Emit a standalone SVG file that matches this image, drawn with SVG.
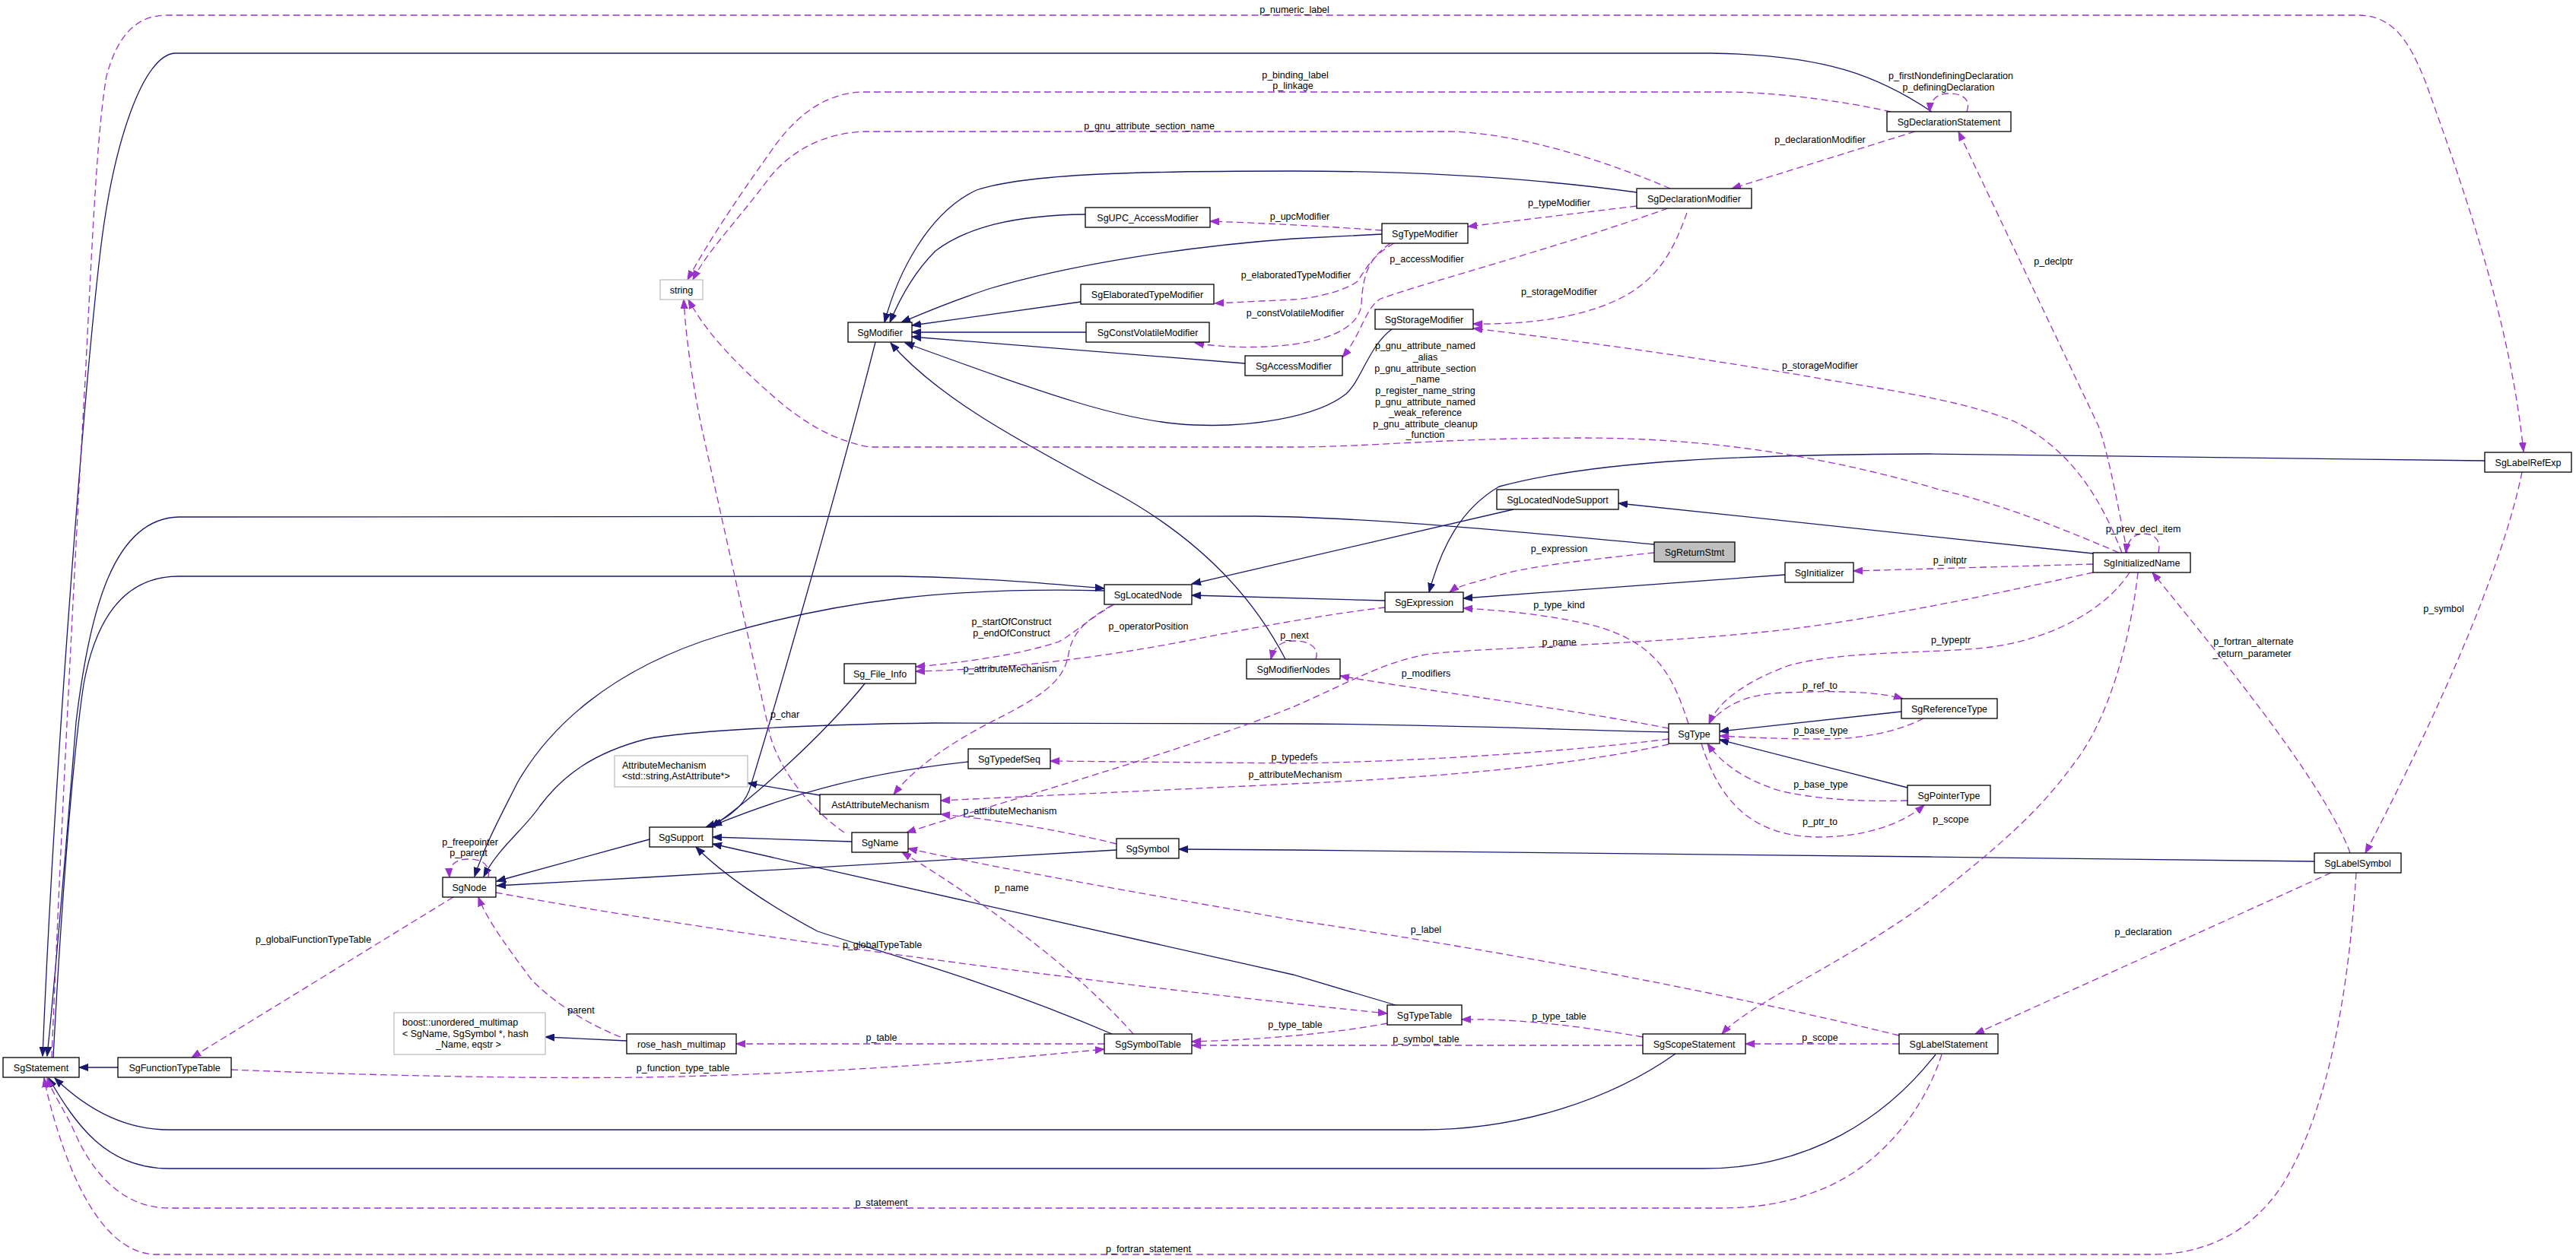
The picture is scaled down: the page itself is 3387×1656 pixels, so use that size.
<svg xmlns="http://www.w3.org/2000/svg" width="3387" height="1656" viewBox="0 0 3387 1656">
<style>
.n rect{fill:#fff;stroke:#000;stroke-width:1.3}
.g rect{stroke:#bfbfbf}
.r rect{fill:#bfbfbf}
text{font-family:"Liberation Sans",Arial,Helvetica,sans-serif;font-size:12.5px;fill:#000;text-anchor:middle}
text.l{text-anchor:start}
.inh{fill:none;stroke:#191970;stroke-width:1.3;marker-end:url(#ab)}
.use{fill:none;stroke:#9a32cd;stroke-width:1.3;stroke-dasharray:9,5;marker-end:url(#ap)}
</style>
<defs>
<marker id="ab" markerUnits="userSpaceOnUse" markerWidth="13" markerHeight="10" viewBox="0 0 13 10" refX="12" refY="5" orient="auto"><path d="M0,0.5 L12,5 L0,9.5 z" fill="#191970" stroke="#191970" stroke-width="1"/></marker>
<marker id="ap" markerUnits="userSpaceOnUse" markerWidth="13" markerHeight="10" viewBox="0 0 13 10" refX="12" refY="5" orient="auto"><path d="M0,0.5 L12,5 L0,9.5 z" fill="#9a32cd" stroke="#9a32cd" stroke-width="1"/></marker>
</defs>
<rect width="3387" height="1656" fill="#fff"/>
<g id="edges">
<path class="inh" d="M2540,147 C2470,100 2400,72 2250,70 L230,70 C190,72 150,180 132,330 C112,500 72,1000 56,1389"/>
<path class="inh" d="M2175,716 C2000,700 1800,680 1650,679 L235,680 C150,682 118,800 100,950 C88,1100 76,1250 62,1389"/>
<path class="inh" d="M70,1391 C80,1200 95,1000 110,900 C130,790 180,758 235,758 L1180,758 C1300,760 1380,768 1452,774"/>
<path class="inh" d="M1452,777 C1250,772 1100,790 950,835 C800,880 720,960 680,1030 C660,1070 638,1110 624,1153"/>
<path class="inh" d="M2194,963 C2000,958 1850,952 1700,952 L1229,951 C1050,953 900,962 850,972 C780,990 740,1020 710,1060 C690,1090 655,1115 636,1153"/>
<path class="inh" d="M854,1104 L653,1159"/>
<path class="inh" d="M1468,1118 L850,1154 L653,1165"/>
<path class="inh" d="M1990,670 L1567,768"/>
<path class="inh" d="M1821,790 L1567,783"/>
<path class="inh" d="M2752,728 L2128,662"/>
<path class="inh" d="M2347,756 L1924,787"/>
<path class="inh" d="M3267,606 C3000,603 2700,598 2537,597 C2300,598 2100,605 1971,640 C1920,670 1895,720 1879,779"/>
<path class="inh" d="M2500,936 L2261,962"/>
<path class="inh" d="M2508,1036 L2261,973"/>
<path class="inh" d="M3043,1133 L2537,1127 L1700,1118 L1550,1117"/>
<path class="inh" d="M2203,1386 C2120,1445 2000,1486 1870,1486 L222,1486 C160,1486 110,1455 72,1418"/>
<path class="inh" d="M2545,1387 C2480,1470 2380,1537 2240,1537 L222,1537 C140,1537 100,1480 64,1418"/>
<path class="inh" d="M155,1404 L104,1404"/>
<path class="inh" d="M1690,867 C1640,770 1560,700 1470,650 C1330,575 1230,520 1171,451"/>
<path class="inh" d="M1151,450 C1100,650 1010,960 985,1040 C975,1065 950,1080 928,1088"/>
<path class="inh" d="M1138,898 C1080,970 990,1050 935,1088"/>
<path class="inh" d="M1273,1002 C1150,1015 1050,1040 937,1086"/>
<path class="inh" d="M1120,1107 L937,1101"/>
<path class="inh" d="M1835,1322 L1700,1282 L937,1110"/>
<path class="inh" d="M1462,1360 C1300,1290 1150,1250 1075,1225 C1010,1190 950,1150 915,1114"/>
<path class="inh" d="M1078,1046 L983,1030"/>
<path class="inh" d="M824,1369 L717,1364"/>
<path class="inh" d="M2152,253 C2000,232 1850,225 1700,225 C1500,225 1350,228 1284,250 C1220,280 1180,360 1163,424"/>
<path class="inh" d="M1427,282 C1330,283 1270,300 1230,330 C1200,360 1180,400 1170,424"/>
<path class="inh" d="M1817,308 L1700,314 C1550,325 1400,350 1300,380 C1240,400 1200,418 1185,424"/>
<path class="inh" d="M1421,397 L1199,428"/>
<path class="inh" d="M1428,437 L1199,437"/>
<path class="inh" d="M1637,478 L1199,443"/>
<path class="inh" d="M1830,433 C1800,455 1790,500 1770,518 C1730,550 1640,562 1571,559 C1480,556 1380,520 1190,451"/>

<path class="use" d="M68,1391 C80,1100 100,700 112,500 C122,300 128,170 140,100 C155,45 180,20 220,20 L3100,20 C3150,20 3170,60 3190,110 C3240,250 3300,420 3318,594"/>
<path class="use" d="M2486,147 C2420,132 2330,121 2269,121 L1137,121 C1080,121 1040,160 1013,200 C970,260 930,320 904,368"/>
<path class="use" d="M2196,248 C2120,215 2000,175 1906,173 L1137,173 C1080,175 1040,200 1013,232 C970,290 930,330 911,368"/>
<path class="use" d="M1817,303 C1750,298 1650,293 1591,291"/>
<path class="use" d="M2152,271 L1930,298"/>
<path class="use" d="M2518,173 L2277,248"/>
<path class="use" d="M2586,147 C2592,130 2580,123 2562,123 C2546,123 2538,132 2537,147"/>
<path class="use" d="M1833,320 C1805,335 1795,355 1785,370 C1765,385 1720,393 1700,394 L1597,399"/>
<path class="use" d="M1828,320 C1800,340 1792,360 1790,400 C1788,425 1760,445 1700,453 C1660,458 1610,458 1571,451"/>
<path class="use" d="M2193,274 C2050,325 1880,370 1815,393 C1795,405 1790,440 1765,470"/>
<path class="use" d="M2218,280 C2200,330 2180,370 2123,396 C2070,420 2000,427 1937,426"/>
<path class="use" d="M2790,727 C2760,650 2720,590 2650,555 C2590,530 2500,515 2405,500 C2250,472 2050,445 1937,432"/>
<path class="use" d="M2797,727 C2780,640 2770,590 2759,560 L2575,173"/>
<path class="use" d="M2786,727 C2700,690 2620,660 2550,644 C2400,600 2250,576 2079,576 C1900,576 1800,588 1700,588 L1143,588 C1100,580 1060,560 1013,518 C970,480 930,440 905,394"/>
<path class="use" d="M1110,1095 C1060,1060 1025,1010 1013,969 L922,560 C912,510 902,450 899,394"/>
<path class="use" d="M1465,795 C1430,815 1410,835 1392,844 C1340,862 1260,872 1204,877"/>
<path class="use" d="M1821,799 C1750,807 1650,825 1555,844 C1450,864 1330,880 1204,883"/>
<path class="use" d="M1462,796 C1430,815 1410,830 1405,860 C1400,890 1380,910 1322,940 C1270,966 1210,1000 1175,1045"/>
<path class="use" d="M2194,979 C2100,1000 1950,1020 1700,1031 L1237,1053"/>
<path class="use" d="M1468,1110 C1420,1098 1330,1080 1237,1071"/>
<path class="use" d="M2752,753 C2650,775 2450,820 2300,833 C2150,848 1950,852 1880,860 C1820,870 1780,895 1700,930 C1550,990 1300,1060 1192,1095"/>
<path class="use" d="M1490,1360 C1420,1280 1300,1190 1186,1121"/>
<path class="use" d="M2497,1362 C2200,1290 1900,1240 1700,1210 C1500,1175 1300,1140 1194,1116"/>
<path class="use" d="M2194,958 C2050,930 1850,905 1762,889"/>
<path class="use" d="M1730,867 C1735,855 1725,843 1702,843 C1685,843 1675,850 1671,867"/>
<path class="use" d="M2175,727 C2100,735 2000,745 1960,760 C1930,768 1915,772 1906,779"/>
<path class="use" d="M2752,742 L2437,751"/>
<path class="use" d="M2220,952 C2200,890 2180,850 2107,826 C2050,810 1980,803 1924,800"/>
<path class="use" d="M2800,753 C2770,800 2700,840 2618,851 C2550,860 2420,855 2350,876 C2300,895 2260,920 2247,952"/>
<path class="use" d="M2247,952 C2270,925 2300,912 2350,911 C2420,908 2470,910 2502,919"/>
<path class="use" d="M2529,945 C2490,965 2440,972 2400,972 C2340,972 2300,970 2261,968"/>
<path class="use" d="M2508,1053 C2440,1055 2380,1050 2340,1040 C2290,1025 2260,1000 2245,978"/>
<path class="use" d="M2237,978 C2260,1050 2300,1100 2390,1101 C2450,1101 2500,1085 2530,1059"/>
<path class="use" d="M2811,753 C2800,850 2770,950 2727,1004 C2680,1070 2620,1120 2537,1185 C2420,1270 2300,1320 2264,1360"/>
<path class="use" d="M2194,972 C2050,990 1850,1002 1700,1004 L1381,1001"/>
<path class="use" d="M642,1154 C645,1138 635,1130 616,1130 C598,1130 590,1138 591,1154"/>
<path class="use" d="M596,1180 L252,1391"/>
<path class="use" d="M652,1174 C900,1220 1400,1290 1824,1333"/>
<path class="use" d="M816,1364 C760,1342 720,1310 700,1290 C670,1250 640,1210 629,1180"/>
<path class="use" d="M1452,1373 L968,1373"/>
<path class="use" d="M304,1407 C500,1415 700,1419 850,1417 C1100,1412 1300,1395 1452,1380"/>
<path class="use" d="M1824,1346 C1750,1360 1650,1368 1567,1370"/>
<path class="use" d="M2160,1375 L1567,1375"/>
<path class="use" d="M2160,1364 C2050,1345 1980,1340 1922,1341"/>
<path class="use" d="M2497,1373 L2295,1373"/>
<path class="use" d="M3065,1148 L2597,1360"/>
<path class="use" d="M3090,1122 C3060,1040 2950,900 2830,753"/>
<path class="use" d="M3316,621 C3290,750 3200,950 3110,1122"/>
<path class="use" d="M2553,1387 C2530,1460 2470,1540 2380,1570 C2340,1585 2300,1589 2260,1589 L222,1589 C160,1589 120,1540 98,1489 C85,1460 70,1440 62,1418"/>
<path class="use" d="M3098,1148 C3085,1350 3050,1480 3000,1560 C2960,1620 2900,1650 2830,1650 L206,1650 C140,1650 100,1560 80,1500 C70,1470 62,1440 58,1418"/>
<path class="use" d="M2838,727 C2842,710 2832,702 2818,702 C2805,702 2797,712 2795,727"/>

<text x="1702" y="16.5">p_numeric_label</text>
<text x="1703" y="102.5">p_binding_label</text>
<text x="1700" y="117">p_linkage</text>
<text x="1511" y="169.5">p_gnu_attribute_section_name</text>
<text x="1709" y="288.5">p_upcModifier</text>
<text x="2050" y="270.5">p_typeModifier</text>
<text x="2393" y="187.5">p_declarationModifier</text>
<text x="2565" y="103.5">p_firstNondefiningDeclaration</text>
<text x="2562" y="118.5">p_definingDeclaration</text>
<text x="1704" y="365.5">p_elaboratedTypeModifier</text>
<text x="1703" y="415.5">p_constVolatileModifier</text>
<text x="1876" y="344.5">p_accessModifier</text>
<text x="2050" y="387.5">p_storageModifier</text>
<text x="2393" y="484.5">p_storageModifier</text>
<text x="2700" y="347.5">p_declptr</text>
<text x="1874" y="458.5">p_gnu_attribute_named</text>
<text x="1874" y="473.5">_alias</text>
<text x="1874" y="488.5">p_gnu_attribute_section</text>
<text x="1874" y="502.5">_name</text>
<text x="1874" y="517.5">p_register_name_string</text>
<text x="1874" y="532.5">p_gnu_attribute_named</text>
<text x="1874" y="546.5">_weak_reference</text>
<text x="1874" y="561.5">p_gnu_attribute_cleanup</text>
<text x="1874" y="575.5">_function</text>
<text x="1032" y="943.5">p_char</text>
<text x="1330" y="821.5">p_startOfConstruct</text>
<text x="1330" y="836.5">p_endOfConstruct</text>
<text x="1510" y="827.5">p_operatorPosition</text>
<text x="1328" y="883.5">p_attributeMechanism</text>
<text x="1703" y="1022.5">p_attributeMechanism</text>
<text x="1328" y="1070.5">p_attributeMechanism</text>
<text x="2050" y="848.5">p_name</text>
<text x="1330" y="1171.5">p_name</text>
<text x="1875" y="1226.5">p_label</text>
<text x="1875" y="889.5">p_modifiers</text>
<text x="1702" y="839.5">p_next</text>
<text x="2050" y="725.5">p_expression</text>
<text x="2564" y="740.5">p_initptr</text>
<text x="2050" y="799.5">p_type_kind</text>
<text x="2565" y="845.5">p_typeptr</text>
<text x="2393" y="905.5">p_ref_to</text>
<text x="2394" y="964.5">p_base_type</text>
<text x="2394" y="1035.5">p_base_type</text>
<text x="2393" y="1084.5">p_ptr_to</text>
<text x="2565" y="1081.5">p_scope</text>
<text x="1702" y="999.5">p_typedefs</text>
<text x="618" y="1111.5">p_freepointer</text>
<text x="616" y="1125.5">p_parent</text>
<text x="412" y="1239.5">p_globalFunctionTypeTable</text>
<text x="1160" y="1246.5">p_globalTypeTable</text>
<text x="764" y="1332.5">parent</text>
<text x="1159" y="1368.5">p_table</text>
<text x="898" y="1408.5">p_function_type_table</text>
<text x="1703" y="1351.5">p_type_table</text>
<text x="1875" y="1370.5">p_symbol_table</text>
<text x="2050" y="1340.5">p_type_table</text>
<text x="2393" y="1368.5">p_scope</text>
<text x="2818" y="1229.5">p_declaration</text>
<text x="2963" y="847.5">p_fortran_alternate</text>
<text x="2961" y="863.5">_return_parameter</text>
<text x="3213" y="804.5">p_symbol</text>
<text x="2818" y="699.5">p_prev_decl_item</text>
<text x="1159" y="1585.5">p_statement</text>
<text x="1510" y="1646.5">p_fortran_statement</text>
</g>

<g id="SgReturnStmt" class="n r"><rect x="2175" y="713" width="106" height="26"/><text x="2228" y="730.5">SgReturnStmt</text></g>
<g id="SgStatement" class="n"><rect x="4" y="1391" width="100" height="26"/><text x="54" y="1408.5">SgStatement</text></g>
<g id="SgFunctionTypeTable" class="n"><rect x="155" y="1391" width="149" height="26"/><text x="229.5" y="1408.5">SgFunctionTypeTable</text></g>
<g id="SgNode" class="n"><rect x="582" y="1154" width="70" height="26"/><text x="617" y="1171.5">SgNode</text></g>
<g id="SgSupport" class="n"><rect x="854" y="1088" width="83" height="26"/><text x="895.5" y="1105.5">SgSupport</text></g>
<g id="SgName" class="n"><rect x="1120" y="1095" width="74" height="26"/><text x="1157" y="1112.5">SgName</text></g>
<g id="SgSymbol" class="n"><rect x="1468" y="1103" width="82" height="26"/><text x="1509" y="1120.5">SgSymbol</text></g>
<g id="SgSymbolTable" class="n"><rect x="1452" y="1360" width="115" height="26"/><text x="1509.5" y="1377.5">SgSymbolTable</text></g>
<g id="rose_hash_multimap" class="n"><rect x="824" y="1360" width="144" height="26"/><text x="896" y="1377.5">rose_hash_multimap</text></g>
<g id="boost_unordered_multimap" class="n g"><rect x="518" y="1332" width="199" height="55"/><text class="l" x="529" y="1349">boost::unordered_multimap</text><text class="l" x="529" y="1363.5">&lt; SgName, SgSymbol *, hash</text><text x="616" y="1378">_Name, eqstr &gt;</text></g>
<g id="SgTypeTable" class="n"><rect x="1824" y="1322" width="98" height="26"/><text x="1873" y="1339.5">SgTypeTable</text></g>
<g id="SgScopeStatement" class="n"><rect x="2160" y="1360" width="135" height="26"/><text x="2227.5" y="1377.5">SgScopeStatement</text></g>
<g id="SgLabelStatement" class="n"><rect x="2497" y="1360" width="130" height="26"/><text x="2562" y="1377.5">SgLabelStatement</text></g>
<g id="SgLabelSymbol" class="n"><rect x="3043" y="1122" width="114" height="26"/><text x="3100" y="1139.5">SgLabelSymbol</text></g>
<g id="SgLocatedNode" class="n"><rect x="1452" y="769" width="115" height="26"/><text x="1509.5" y="786.5">SgLocatedNode</text></g>
<g id="Sg_File_Info" class="n"><rect x="1110" y="873" width="94" height="26"/><text x="1157" y="890.5">Sg_File_Info</text></g>
<g id="SgModifierNodes" class="n"><rect x="1639" y="867" width="123" height="26"/><text x="1700.5" y="884.5">SgModifierNodes</text></g>
<g id="AttributeMechanism" class="n g"><rect x="808" y="994" width="175" height="41"/><text class="l" x="818" y="1010.5">AttributeMechanism</text><text class="l" x="818" y="1025">&lt;std::string,AstAttribute*&gt;</text></g>
<g id="AstAttributeMechanism" class="n"><rect x="1078" y="1045" width="159" height="26"/><text x="1157.5" y="1062.5">AstAttributeMechanism</text></g>
<g id="SgTypedefSeq" class="n"><rect x="1273" y="985" width="108" height="26"/><text x="1327" y="1002.5">SgTypedefSeq</text></g>
<g id="SgExpression" class="n"><rect x="1821" y="779" width="103" height="26"/><text x="1872.5" y="796.5">SgExpression</text></g>
<g id="SgLocatedNodeSupport" class="n"><rect x="1968" y="644" width="160" height="26"/><text x="2048" y="661.5">SgLocatedNodeSupport</text></g>
<g id="SgInitializer" class="n"><rect x="2347" y="740" width="90" height="26"/><text x="2392" y="757.5">SgInitializer</text></g>
<g id="SgType" class="n"><rect x="2194" y="952" width="67" height="26"/><text x="2227.5" y="969.5">SgType</text></g>
<g id="SgReferenceType" class="n"><rect x="2500" y="919" width="126" height="26"/><text x="2563" y="936.5">SgReferenceType</text></g>
<g id="SgPointerType" class="n"><rect x="2508" y="1033" width="109" height="26"/><text x="2562.5" y="1050.5">SgPointerType</text></g>
<g id="SgInitializedName" class="n"><rect x="2752" y="727" width="128" height="26"/><text x="2816" y="744.5">SgInitializedName</text></g>
<g id="SgLabelRefExp" class="n"><rect x="3267" y="595" width="114" height="26"/><text x="3324" y="612.5">SgLabelRefExp</text></g>
<g id="string" class="n g"><rect x="868" y="368" width="56" height="26"/><text x="896" y="385.5">string</text></g>
<g id="SgModifier" class="n"><rect x="1115" y="424" width="84" height="26"/><text x="1157" y="441.5">SgModifier</text></g>
<g id="SgUPC_AccessModifier" class="n"><rect x="1427" y="273" width="164" height="26"/><text x="1509" y="290.5">SgUPC_AccessModifier</text></g>
<g id="SgElaboratedTypeModifier" class="n"><rect x="1421" y="374" width="175" height="26"/><text x="1508.5" y="391.5">SgElaboratedTypeModifier</text></g>
<g id="SgConstVolatileModifier" class="n"><rect x="1428" y="424" width="162" height="26"/><text x="1509" y="441.5">SgConstVolatileModifier</text></g>
<g id="SgAccessModifier" class="n"><rect x="1637" y="468" width="128" height="26"/><text x="1701" y="485.5">SgAccessModifier</text></g>
<g id="SgTypeModifier" class="n"><rect x="1817" y="294" width="113" height="26"/><text x="1873.5" y="311.5">SgTypeModifier</text></g>
<g id="SgStorageModifier" class="n"><rect x="1808" y="407" width="129" height="26"/><text x="1872.5" y="424.5">SgStorageModifier</text></g>
<g id="SgDeclarationModifier" class="n"><rect x="2152" y="248" width="151" height="26"/><text x="2227.5" y="265.5">SgDeclarationModifier</text></g>
<g id="SgDeclarationStatement" class="n"><rect x="2481" y="147" width="163" height="26"/><text x="2562.5" y="164.5">SgDeclarationStatement</text></g>
</svg>
